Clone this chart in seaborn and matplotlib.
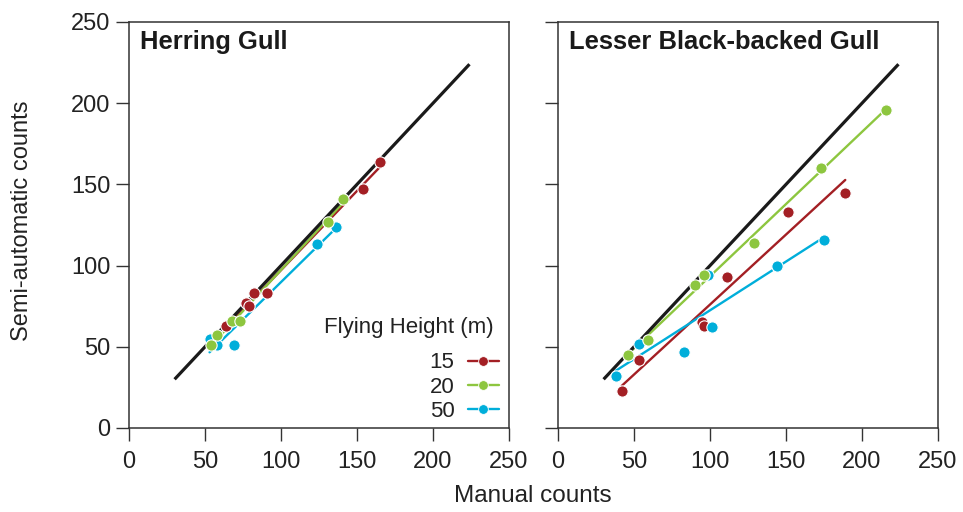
import pandas as pd
import matplotlib
matplotlib.use('Agg')
import matplotlib.pyplot as plt
from matplotlib.lines import Line2D
import seaborn as sns

# Herring Gull (manual vs semi-automatic counts) per flying height
hg_15_manual = [165, 154, 82, 91, 77, 79, 64]
hg_15_semi = [164, 147, 83, 83, 77, 75, 63]
hg_20_manual = [141, 131, 68, 73, 58, 54]
hg_20_semi = [141, 127, 66, 66, 57, 51]
hg_50_manual = [136, 124, 53, 58, 69]
hg_50_semi = [124, 113, 55, 51, 51]

# Lesser Black-backed Gull
lbbg_15_manual = [189, 151, 111, 95, 96, 53, 42]
lbbg_15_semi = [145, 133, 93, 65, 63, 42, 23]
lbbg_20_manual = [216, 173, 129, 96, 90, 59, 46]
lbbg_20_semi = [196, 160, 114, 94, 88, 54, 45]
lbbg_50_manual = [175, 144, 99, 101, 83, 53, 38]
lbbg_50_semi = [116, 100, 94, 62, 47, 52, 32]

heights = ['15', '20', '50']
species = ['Herring Gull', 'Lesser Black-backed Gull']
identity_range = [30, 224]
ticks = [0, 50, 100, 150, 200, 250]

colors = {'15': '#a31f24', '20': '#8dc63f', '50': '#00aeda'}

rows = []
data = {
    'Herring Gull': [(hg_15_manual, hg_15_semi), (hg_20_manual, hg_20_semi), (hg_50_manual, hg_50_semi)],
    'Lesser Black-backed Gull': [(lbbg_15_manual, lbbg_15_semi), (lbbg_20_manual, lbbg_20_semi),
                                 (lbbg_50_manual, lbbg_50_semi)],
}
for sp in species:
    for h, (m, s) in zip(heights, data[sp]):
        for a, b in zip(m, s):
            rows.append({'species': sp, 'height': h, 'manual': a, 'semi': b})
df = pd.DataFrame(rows)

sns.set_style('ticks')
plt.rcParams['font.family'] = ['Liberation Sans', 'DejaVu Sans']

fig = plt.figure(figsize=(9.63, 5.12), dpi=100)
W, H = 963, 512
ax1 = fig.add_axes([129 / W, (H - 428) / H, 380 / W, 406 / H])
ax2 = fig.add_axes([558 / W, (H - 428) / H, 380 / W, 406 / H])

for ax, sp in zip([ax1, ax2], species):
    sub = df[df['species'] == sp]
    # regression line per flying height
    for h in heights:
        g = sub[sub['height'] == h]
        sns.regplot(data=g, x='manual', y='semi', ax=ax, ci=None, scatter=False,
                    color=colors[h], line_kws=dict(lw=1.7, zorder=2))
    # 1:1 line
    ax.plot(identity_range, identity_range, color='#1a1a1a', lw=2.3, zorder=3,
            solid_capstyle='butt')
    for h in ['15', '50', '20']:
        g = sub[sub['height'] == h]
        sns.scatterplot(data=g, x='manual', y='semi', ax=ax, color=colors[h],
                        s=66, edgecolor='white', linewidth=0.8, zorder=4, legend=False)
    ax.set_xlim(0, 250)
    ax.set_ylim(0, 250)
    ax.set_xticks(ticks)
    ax.set_yticks(ticks)
    ax.set_xlabel('')
    ax.set_ylabel('')
    ax.tick_params(direction='out', length=9.5, width=1.0, color='#333333',
                   labelsize=17, labelcolor='#222222')
    ax.tick_params(axis='y', pad=4)
    ax.tick_params(axis='x', pad=7)
    for sp_ in ax.spines.values():
        sp_.set_linewidth(1.1)
        sp_.set_color('#333333')
    ax.text(0.029, 0.951, sp, transform=ax.transAxes, fontsize=18.4,
            fontweight='bold', va='center', ha='left', color='#1a1a1a')

ax2.tick_params(labelleft=False)

handles = [Line2D([0], [0], color=colors[h], lw=1.7, marker='o', markersize=7,
                  markeredgecolor='white', markeredgewidth=0.6) for h in heights]
leg = ax1.legend(handles, heights, loc='lower right',
                 bbox_to_anchor=((499 - 129) / 380, (428 - 422) / 406),
                 frameon=False, markerfirst=False,
                 fontsize=16, labelspacing=0.15,
                 handlelength=1.4, handletextpad=0.6, borderaxespad=0, borderpad=0)
for t in leg.get_texts():
    t.set_color('#222222')
ax1.text((494 - 129) / 380, (428 - 328) / 406, 'Flying Height (m)', transform=ax1.transAxes,
         ha='right', va='center', fontsize=16, color='#222222')

fig.text(533 / W, 1 - 496 / H, 'Manual counts', ha='center', va='center',
         fontsize=17.5, color='#222222')
fig.text(22 / W, 1 - 221 / H, 'Semi-automatic counts', ha='center', va='center',
         rotation=90, fontsize=17, color='#222222')

fig.savefig('out.png', dpi=100)
